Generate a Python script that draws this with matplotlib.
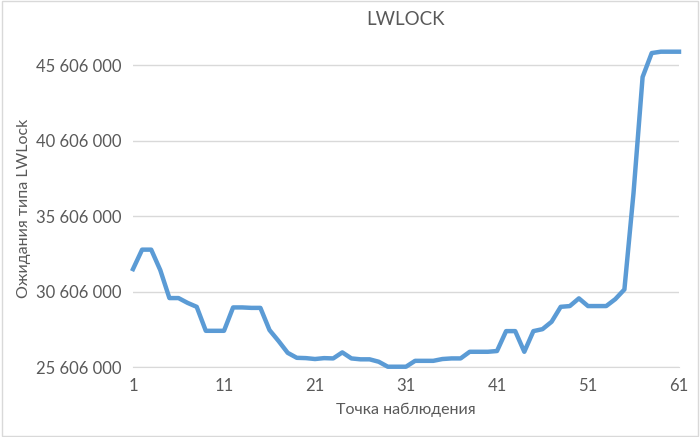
import numpy as np
import matplotlib
matplotlib.use('Agg')
import matplotlib.pyplot as plt

points = list(range(1, 62))
waits_m = [32.10, 33.39, 33.39, 32.03, 30.18, 30.18, 29.86, 29.60, 28.01, 28.01,
           28.01, 29.56, 29.56, 29.53, 29.53, 28.06, 27.33, 26.55, 26.22, 26.20,
           26.14, 26.20, 26.18, 26.58, 26.18, 26.12, 26.12, 25.96, 25.63, 25.63,
           25.63, 26.02, 26.02, 26.02, 26.14, 26.18, 26.18, 26.62, 26.62, 26.62,
           26.67, 27.99, 27.99, 26.62, 27.99, 28.12, 28.61, 29.60, 29.65, 30.16,
           29.65, 29.65, 29.65, 30.11, 30.75, 37.13, 44.83, 46.42, 46.51, 46.51,
           46.51]
waits = [v * 1e6 for v in waits_m]

y_ticks = [25606000, 30606000, 35606000, 40606000, 45606000]
x_ticks = [1, 11, 21, 31, 41, 51, 61]

plt.rcParams['font.family'] = ['Lato', 'DejaVu Sans']
grey = '#595959'

fig = plt.figure(figsize=(7, 4.37), dpi=100)
ax = fig.add_axes([0.19, 0.16, 0.78, 0.725])

ax.plot(points, waits, color='#5B9BD5', linewidth=3.2, clip_on=False,
        solid_joinstyle='round', zorder=3)

ax.set_xlim(1, 61)
ax.set_ylim(25606000, 46606000)
ax.set_xticks(x_ticks)
ax.set_yticks(y_ticks)
ax.set_yticklabels(['{:,}'.format(v).replace(',', ' ') for v in y_ticks])
ax.tick_params(length=0, labelsize=12, colors=grey, pad=8)
ax.grid(axis='y', color='#d9d9d9', linewidth=1)
for s in ['top', 'right', 'left']:
    ax.spines[s].set_visible(False)
ax.spines['bottom'].set_color('#d9d9d9')

ax.set_title('LWLOCK', fontsize=13.5, color=grey, pad=18)
ax.set_xlabel('Точка наблюдения', fontsize=11.5, color=grey, labelpad=6)
ax.set_ylabel('Ожидания типа LWLock', fontsize=11.5, color=grey, labelpad=4)

# light frame round the whole chart
fig.patches.append(plt.Rectangle((0.003, 0.003), 0.994, 0.994, transform=fig.transFigure,
                                 fill=False, edgecolor='#d9d9d9', linewidth=1))

fig.savefig('out.png', dpi=100)
